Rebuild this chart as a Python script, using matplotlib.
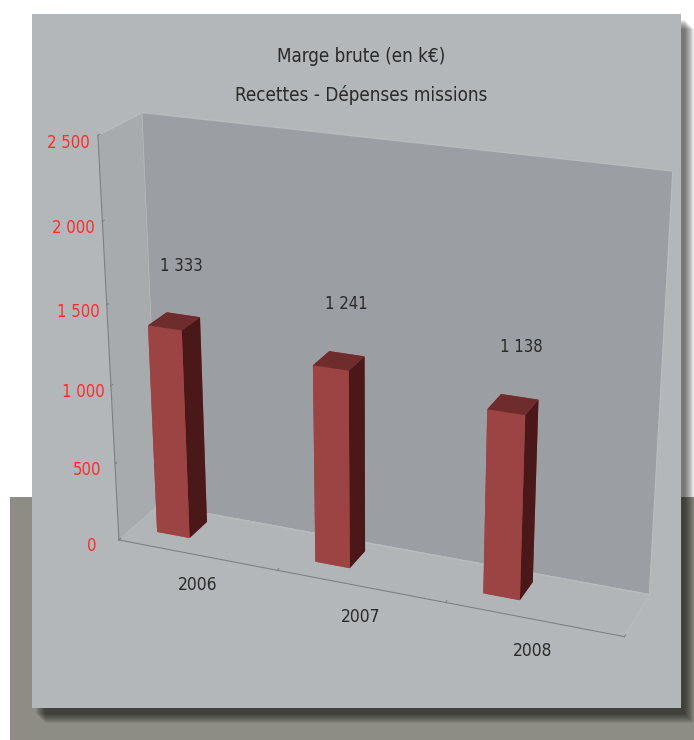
import matplotlib
matplotlib.use('Agg')
import matplotlib.pyplot as plt
from matplotlib.patches import Rectangle
from matplotlib.ticker import FuncFormatter

# data
years = ['2006', '2007', '2008']
marge = [1333, 1241, 1138]
z_ticks = [0, 500, 1000, 1500, 2000, 2500]
title_lines = ['Marge brute (en k€)', 'Recettes - Dépenses missions']

plt.rcParams['font.family'] = ['DejaVu Sans']
plt.rcParams['font.stretch'] = 'condensed'

W, H = 694, 740
fig = plt.figure(figsize=(W / 100, H / 100), dpi=100)
fig.patch.set_facecolor('white')


def add_rect(x, y, w, h, color, alpha=1.0, z=-10):
    # pixel box, top-left origin -> figure fraction
    fig.patches.append(Rectangle((x / W, 1 - (y + h) / H), w / W, h / H,
                                 transform=fig.transFigure, facecolor=color,
                                 edgecolor='none', alpha=alpha, zorder=z))


# backdrop: olive band, soft drop shadow, grey panel
add_rect(10, 497, 684, 243, '#8e8d85')
for k in range(10):
    add_rect(32 + 4 + k, 14 + 6 + k, 649, 694, 'black', alpha=0.07)
add_rect(32, 14, 649, 694, '#b4b7ba', z=-9)

fig.text(0.52, 1 - 56 / H, title_lines[0], ha='center', va='center', fontsize=13.5, color='#2a2a2a')
fig.text(0.52, 1 - 95 / H, title_lines[1], ha='center', va='center', fontsize=13.5, color='#2a2a2a')

ax = fig.add_axes([0.102, 0.092, 0.86, 0.80], projection='3d',
                  proj_type='persp', focal_length=0.65)
ax.set_facecolor((0, 0, 0, 0))
ax.patch.set_alpha(0)
ax.view_init(elev=22, azim=-68)
ax.set_box_aspect((6, 1, 4.8), zoom=1.18)

ax.set_xlim(-0.5, 2.5)
ax.set_ylim(0, 1)
ax.set_zlim(0, 2500)

# walls
ax.xaxis.set_pane_color('#a8abae')
ax.yaxis.set_pane_color('#9b9ea2')
ax.zaxis.set_pane_color('#b2b5b8')
for a in (ax.xaxis, ax.yaxis, ax.zaxis):
    a.pane.set_edgecolor('#b9bcbf')
    a._axinfo['grid']['linewidth'] = 0
ax.grid(False)

# bars
bar_w, bar_d, y0 = 0.21, 0.45, 0.35
bar_shift = -0.24
face_cols = ['#9b4443', '#6e2c2c', '#9b4443', '#9b4443', '#9b4443', '#4a1819']
for i, v in enumerate(marge):
    ax.bar3d(i + bar_shift - bar_w / 2, y0, 0, bar_w, bar_d, v,
             color=face_cols, shade=False, edgecolor='none')
    ax.text(i + bar_shift, y0 + bar_d, v + 300, f"{v:,}".replace(',', ' '),
            ha='center', va='center', fontsize=12, color='#2a2a2a')

# axes styling
ax.set_xticks([-0.5, 0.5, 1.5, 2.5])
ax.set_xticklabels([])
for i, yr in enumerate(years):
    ax.text(i, 0, -200, yr, ha='center', va='center', fontsize=12.5, color='#2a2a2a')

ax.set_zticks(z_ticks)
ax.zaxis.set_major_formatter(FuncFormatter(lambda v, _: f"{int(v):,}".replace(',', ' ')))
ax.zaxis.set_ticks_position('lower')
ax.tick_params(axis='z', colors='#7d7f82', labelcolor='#ff2a2a', labelsize=12, pad=4)
ax.tick_params(axis='x', colors='#7d7f82')
ax.set_yticks([])
ax.yaxis.line.set_color((0, 0, 0, 0))
ax.xaxis.line.set_color('#7d7f82')
ax.zaxis.line.set_color('#7d7f82')
for a in (ax.xaxis, ax.zaxis):
    a._axinfo['tick']['inward_factor'] = 0.0
    a._axinfo['tick']['outward_factor'] = 0.5

fig.savefig('out.png', dpi=100)
